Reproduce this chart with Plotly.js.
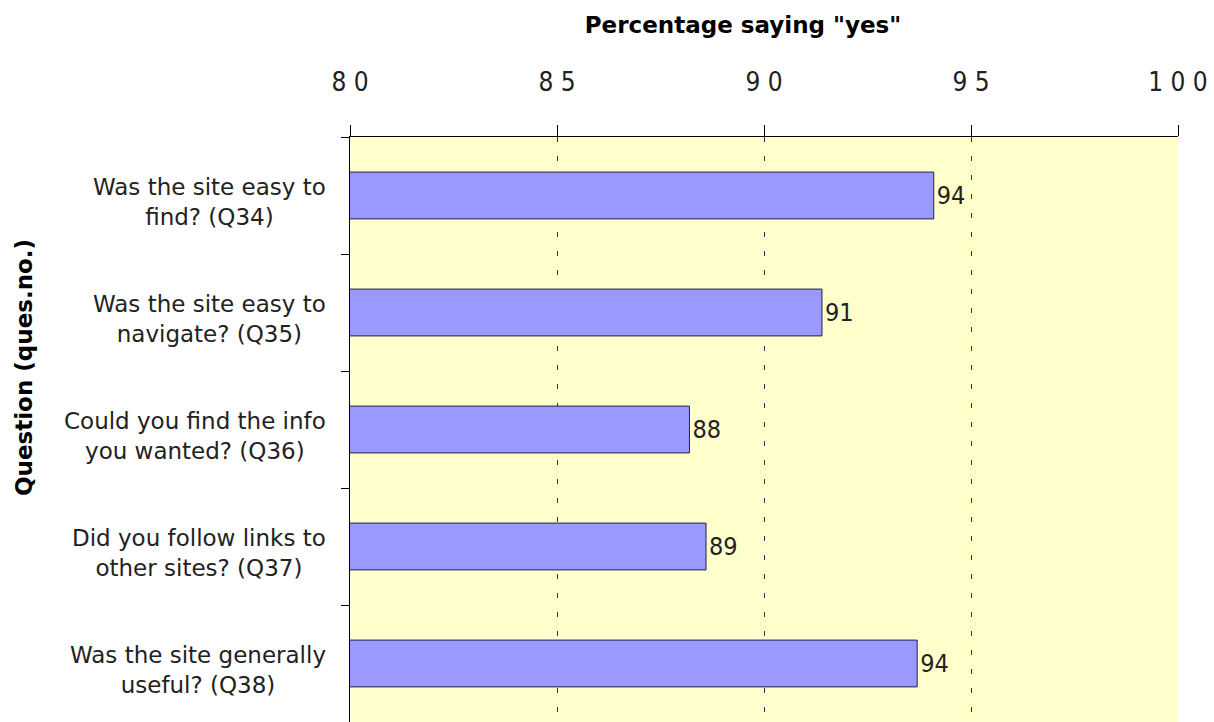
<!DOCTYPE html>
<html>
<head>
<meta charset="utf-8">
<script src="https://cdn.plot.ly/plotly-3.0.1.min.js"></script>
<style>html,body{margin:0;padding:0;background:#fff;}#chart{width:1214px;height:722px;}</style>
</head>
<body>
<div id="chart"></div>
<script>
const questions = [
  "Was the site easy to<br>find? (Q34)",
  "Was the site easy to<br>navigate? (Q35)",
  "Could you find the info<br>you wanted? (Q36)",
  "Did you follow links to<br>other sites? (Q37)",
  "Was the site generally<br>useful? (Q38)"
];
const yesPct = [94.1, 91.4, 88.2, 88.6, 93.7];
const xTicks = [80, 85, 90, 95, 100];
const xTickLabels = ["8 0", "8 5", "9 0", "9 5", "1 0 0"];
const xTitle = 'Percentage saying "yes"';
const yTitle = 'Question (ques.no.)';

const FONT = 'DejaVu Sans, sans-serif';
const NARROW = 'Liberation Sans Narrow, DejaVu Sans Condensed, Arial Narrow, sans-serif';

const trace = {
  type: 'bar',
  orientation: 'h',
  y: questions,
  x: yesPct,
  base: 0,
  marker: {color: '#9999FF', line: {color: '#222244', width: 1}},
  texttemplate: '%{x:.0f}',
  textposition: 'outside',
  textfont: {family: NARROW, size: 25, color: '#222'},
  cliponaxis: false,
  hoverinfo: 'skip'
};

const labelAnnotations = questions.map(q => ({
  xref: 'x', yref: 'y', x: 80, y: q,
  xanchor: 'right', yanchor: 'middle',
  xshift: -22, yshift: -6,
  text: q, align: 'center', showarrow: false,
  font: {family: FONT, size: 23, color: '#222'}
}));

const layout = {
  width: 1214, height: 722,
  margin: {l: 350, r: 36, t: 137, b: 0},
  paper_bgcolor: '#ffffff',
  plot_bgcolor: '#FFFFCC',
  showlegend: false,
  bargap: 0.6,
  title: {
    text: '<b>' + xTitle + '</b>',
    xref: 'paper', x: (743 - 350) / 828, xanchor: 'center',
    yref: 'container', y: 1 - 25 / 722, yanchor: 'middle',
    font: {family: FONT, size: 23, color: '#000'}
  },
  xaxis: {
    side: 'top',
    range: [80, 100],
    tickvals: xTicks,
    ticktext: xTickLabels,
    ticks: 'outside', ticklen: 11, tickcolor: '#000', tickwidth: 1,
    ticklabelstandoff: 24,
    tickfont: {family: NARROW, size: 26, color: '#222'},
    showline: true, linecolor: '#000', linewidth: 1,
    showgrid: true, gridcolor: '#333', gridwidth: 1, griddash: '5px,14px',
    zeroline: false,
    fixedrange: true
  },
  yaxis: {
    type: 'category',
    autorange: 'reversed',
    showticklabels: false,
    ticks: 'outside', ticklen: 8, tickcolor: '#000', tickson: 'boundaries',
    showline: true, linecolor: '#000', linewidth: 1,
    showgrid: false, zeroline: false,
    fixedrange: true
  },
  annotations: labelAnnotations.concat([{
    xref: 'paper', yref: 'paper', x: (24 - 350) / 828, y: (722 - 368) / 585,
    xanchor: 'center', yanchor: 'middle', textangle: -90,
    text: '<b>' + yTitle + '</b>', showarrow: false,
    font: {family: FONT, size: 23, color: '#000'}
  }])
};

Plotly.newPlot('chart', [trace], layout, {displayModeBar: false, staticPlot: true});
</script>
</body>
</html>
